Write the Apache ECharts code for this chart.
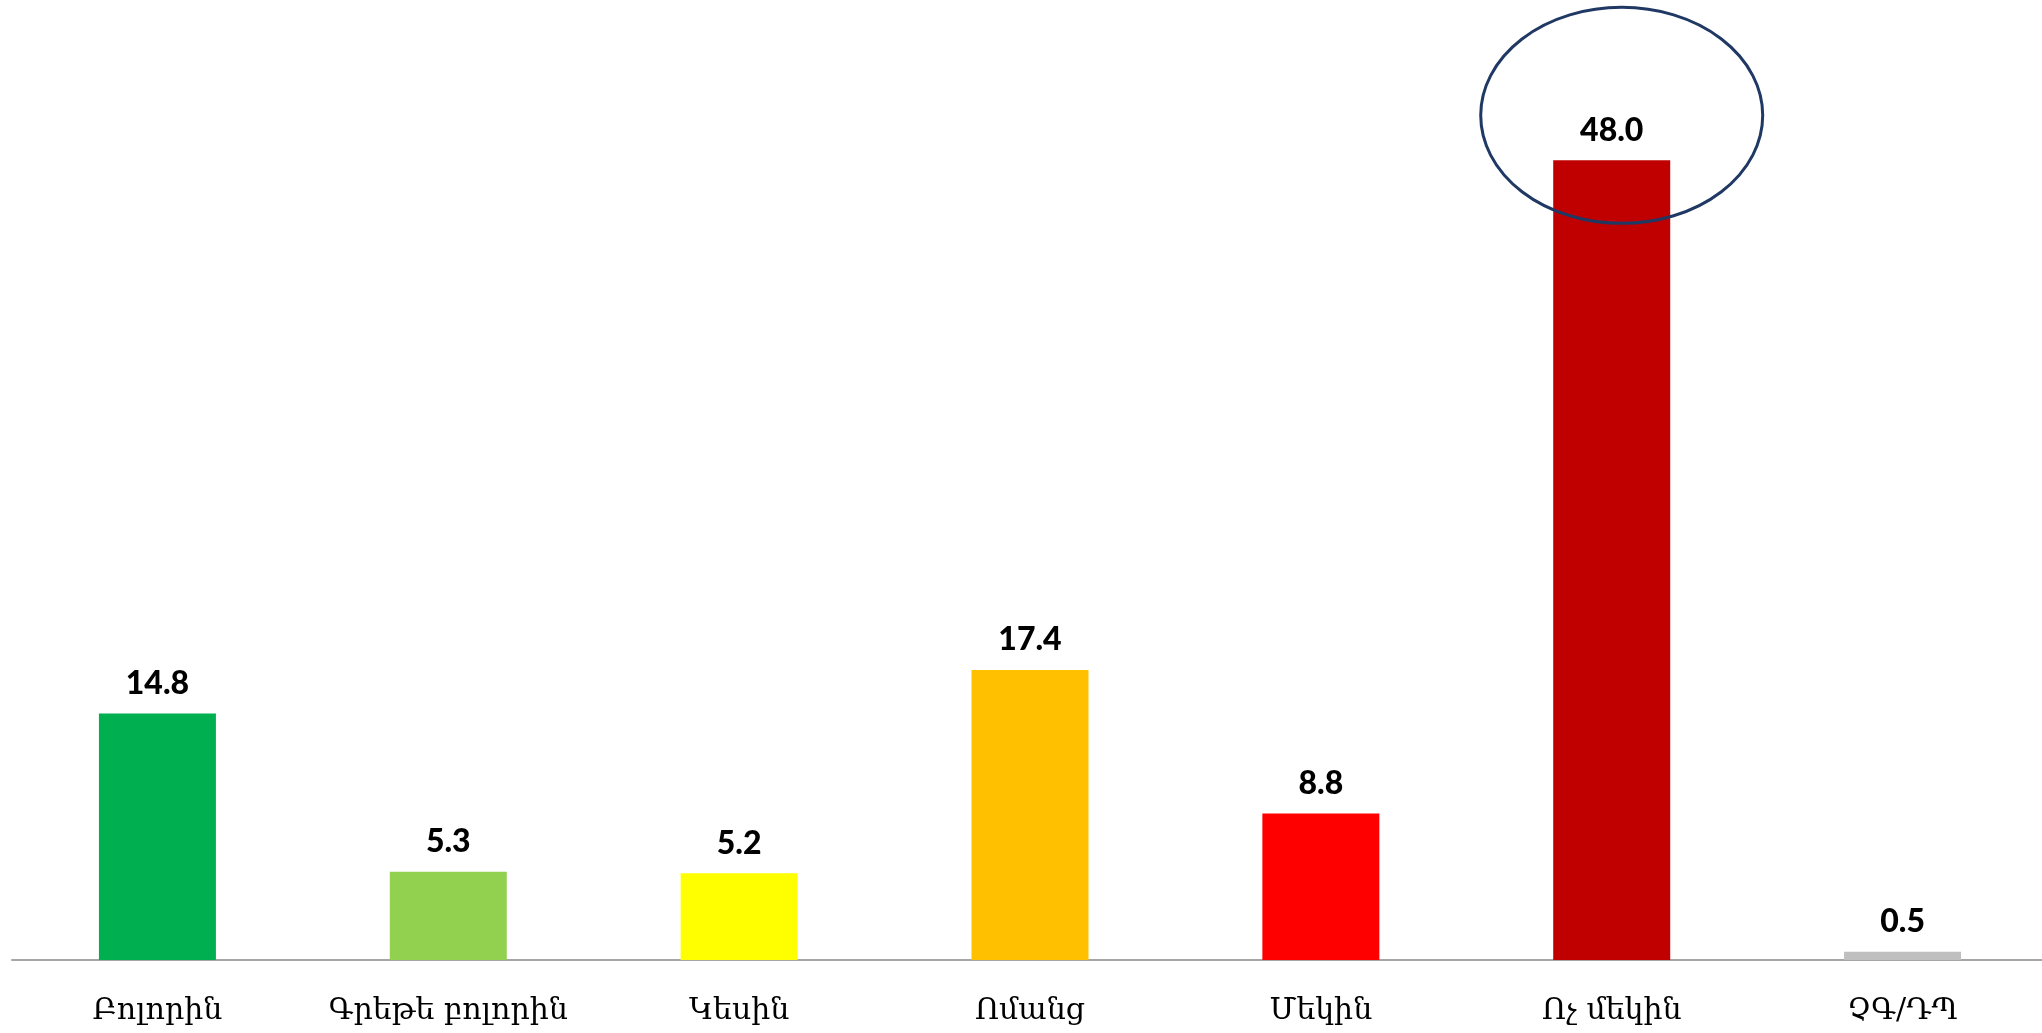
<!DOCTYPE html>
<html>
<head>
<meta charset="utf-8">
<script src="https://cdn.jsdelivr.net/npm/echarts@6/dist/echarts.min.js"></script>
<style>
  html, body { margin: 0; padding: 0; background: #fff; }
  #chart { width: 2042px; height: 1033px; }
</style>
</head>
<body>
<div id="chart"></div>
<script>
  // categories and values
  var categories = ['Բոլորին', 'Գրեթե բոլորին', 'Կեսին', 'Ոմանց', 'Մեկին', 'Ոչ մեկին', 'ՉԳ/ԴՊ'];
  var values = [14.8, 5.3, 5.2, 17.4, 8.8, 48.0, 0.5];
  var barColors = ['#00B050', '#92D050', '#FFFF00', '#FFC000', '#FF0000', '#C00000', '#BFBFBF'];
  // the circled bar
  var highlightIndex = 5;

  var chart = echarts.init(document.getElementById('chart'));

  var option = {
    animation: false,
    backgroundColor: '#ffffff',
    grid: {
      left: 12,
      right: -6,
      top: 127,
      bottom: 73,
      outerBoundsMode: 'none'
    },
    xAxis: {
      type: 'category',
      data: categories,
      axisTick: { show: false },
      axisLine: {
        lineStyle: { color: '#A6A6A6', width: 2 }
      },
      axisLabel: {
        interval: 0,
        color: '#000',
        fontFamily: 'DejaVu Serif',
        fontSize: 30,
        margin: 36
      }
    },
    yAxis: {
      type: 'value',
      min: 0,
      max: 50,
      show: false,
      splitLine: { show: false }
    },
    series: [
      {
        type: 'bar',
        barWidth: 117,
        data: values.map(function (v, i) {
          return { value: v, itemStyle: { color: barColors[i] } };
        }),
        label: {
          show: true,
          position: 'top',
          distance: 14,
          color: '#000',
          fontFamily: 'Lato',
          fontWeight: 900,
          fontSize: 32,
          formatter: function (p) { return p.value.toFixed(1); }
        }
      },
      {
        // ellipse round the largest value
        type: 'custom',
        z: 10,
        silent: true,
        data: [[highlightIndex, values[highlightIndex]]],
        encode: { x: 0, y: 1 },
        renderItem: function (params, api) {
          var p = api.coord([api.value(0), api.value(1)]);
          var rx = 141, ry = 108;
          var cx = p[0] + 10, cy = p[1] - 45;
          return {
            type: 'path',
            shape: {
              pathData: 'M 0 50 A 50 50 0 1 0 100 50 A 50 50 0 1 0 0 50 Z',
              x: cx - rx,
              y: cy - ry,
              width: 2 * rx,
              height: 2 * ry,
              layout: 'cover'
            },
            style: { fill: 'none', stroke: '#203864', lineWidth: 3 }
          };
        }
      }
    ]
  };

  chart.setOption(option);

  window.addEventListener('resize', chart.resize);
</script>
</body>
</html>
